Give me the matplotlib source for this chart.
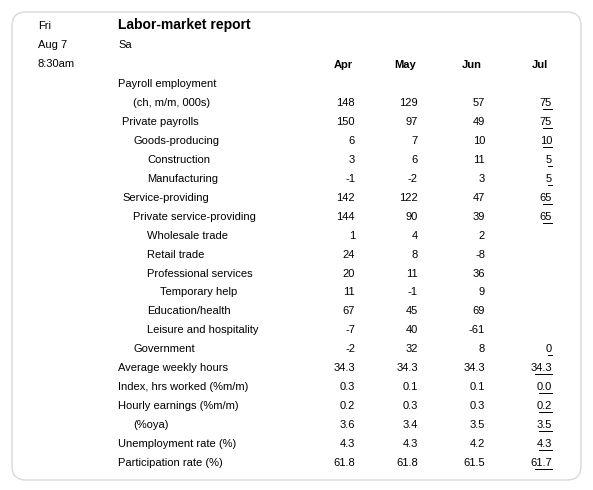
import matplotlib.pyplot as plt
from matplotlib.patches import FancyBboxPatch

plt.rcParams['font.family'] = ['Liberation Sans Narrow', 'Liberation Sans', 'DejaVu Sans']

months = ["Apr", "May", "Jun", "Jul"]
labels = ["Payroll employment", "(ch, m/m, 000s)", "Private payrolls", "Goods-producing",
          "Construction", "Manufacturing", "Service-providing", "Private service-providing",
          "Wholesale trade", "Retail trade", "Professional services", "Temporary help",
          "Education/health", "Leisure and hospitality", "Government", "Average weekly hours",
          "Index, hrs worked (%m/m)", "Hourly earnings (%m/m)", "(%oya)",
          "Unemployment rate (%)", "Participation rate (%)"]
indent = [0, 2, 1, 2, 3, 3, 1, 2, 3, 3, 3, 4, 3, 3, 2, 0, 0, 0, 2, 0, 0]
apr = ["", "148", "150", "6", "3", "-1", "142", "144", "1", "24", "20", "11", "67", "-7", "-2",
       "34.3", "0.3", "0.2", "3.6", "4.3", "61.8"]
may = ["", "129", "97", "7", "6", "-2", "122", "90", "4", "8", "11", "-1", "45", "40", "32",
       "34.3", "0.1", "0.3", "3.4", "4.3", "61.8"]
jun = ["", "57", "49", "10", "11", "3", "47", "39", "2", "-8", "36", "9", "69", "-61", "8",
       "34.3", "0.1", "0.3", "3.5", "4.2", "61.5"]
jul = ["", "75", "75", "10", "5", "5", "65", "65", "", "", "", "", "", "", "0",
       "34.3", "0.0", "0.2", "3.5", "4.3", "61.7"]

fig = plt.figure(figsize=(5.93, 4.90), dpi=100)
ax = fig.add_axes([0, 0, 1, 1])
ax.set_xlim(0, 593)
ax.set_ylim(490, 0)
ax.axis('off')

ax.add_patch(FancyBboxPatch((12, 12), 569, 468, boxstyle="round,pad=0,rounding_size=14",
                            fc='white', ec='#d9d9d9', lw=1))

fs = 8
for i, t in enumerate(["Fri", "Aug 7", "8:30am"]):
    ax.text(38, 26 + i * 19, t, fontsize=fs, va='center')
ax.text(118, 25, "Labor-market report", fontsize=10, fontweight='bold', va='center')
ax.text(118, 45, "Sa", fontsize=fs, va='center')

col_c = [343, 405, 472, 540]
col_r = [355, 418, 485, 552]
for c, m in zip(col_c, months):
    ax.text(c, 65, m, fontsize=fs, fontweight='bold', ha='center', va='center')

x_ind = [118, 122, 133, 147, 160]
y0, dy = 84, 18.95
for i, lab in enumerate(labels):
    y = y0 + i * dy
    ax.text(x_ind[indent[i]], y, lab, fontsize=fs, va='center')
    for j, vals in enumerate([apr, may, jun, jul]):
        v = vals[i]
        if not v:
            continue
        ax.text(col_r[j], y, v, fontsize=fs, ha='right', va='center')
        if j == 3:
            w = len(v) * 4.3
            ax.plot([col_r[j] - w, col_r[j]], [y + 6, y + 6], color='black', lw=0.7)

fig.savefig("out.png", dpi=100)
